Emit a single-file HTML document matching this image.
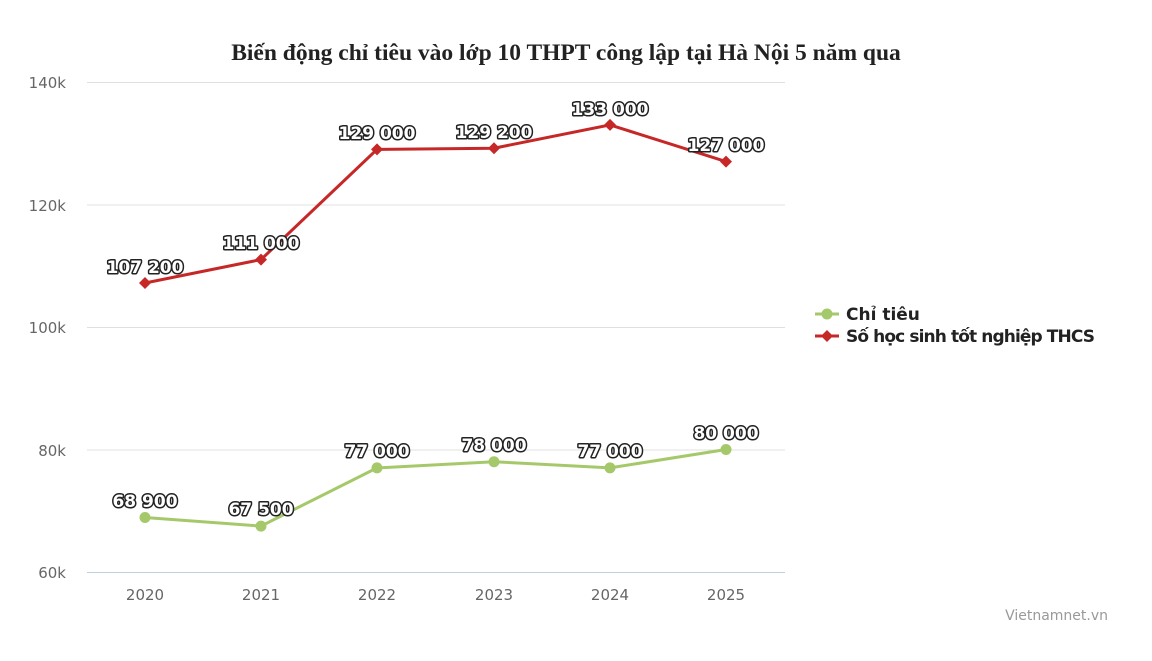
<!DOCTYPE html>
<html><head><meta charset="utf-8"><style>
body{margin:0;background:#fff;}
svg text{font-family:"DejaVu Sans","Liberation Sans",sans-serif;}
.lbl{font-family:"Liberation Sans",sans-serif !important;font-size:17px;font-weight:bold;fill:#fff;stroke:#222;stroke-width:3px;paint-order:stroke;stroke-linejoin:round;text-anchor:middle;}
.ax{font-size:15px;fill:#666;}
</style></head><body>
<svg width="1152" height="656" xmlns="http://www.w3.org/2000/svg">
<rect width="1152" height="656" fill="#fff"/>
<text x="566" y="60" text-anchor="middle" style="font-family:'Liberation Serif',serif;font-size:23.5px;font-weight:bold;fill:#222">Biến động chỉ tiêu vào lớp 10 THPT công lập tại Hà Nội 5 năm qua</text>
<g stroke="#e0e0e0" stroke-width="1">
<line x1="87" x2="785" y1="82.5" y2="82.5"/>
<line x1="87" x2="785" y1="205" y2="205"/>
<line x1="87" x2="785" y1="327.5" y2="327.5"/>
<line x1="87" x2="785" y1="450" y2="450"/>
</g>
<line x1="87" x2="785" y1="572.5" y2="572.5" stroke="#c0d0e0"/>
<g class="ax" text-anchor="end">
<text x="66" y="88">140k</text><text x="66" y="211">120k</text><text x="66" y="333">100k</text><text x="66" y="456">80k</text><text x="66" y="578">60k</text>
</g>
<g class="ax" text-anchor="middle">
<text x="145" y="600">2020</text><text x="261" y="600">2021</text><text x="377" y="600">2022</text><text x="494" y="600">2023</text><text x="610" y="600">2024</text><text x="726" y="600">2025</text>
</g>
<polyline fill="none" stroke="#c62828" stroke-width="3" points="145,283 261,259.6 377,149.4 494,148.2 610,124.9 726,161.6"/>
<g fill="#c62828">
<path d="M145,277 l6,6 l-6,6 l-6,-6z"/><path d="M261,253.6 l6,6 l-6,6 l-6,-6z"/><path d="M377,143.4 l6,6 l-6,6 l-6,-6z"/><path d="M494,142.2 l6,6 l-6,6 l-6,-6z"/><path d="M610,118.9 l6,6 l-6,6 l-6,-6z"/><path d="M726,155.6 l6,6 l-6,6 l-6,-6z"/>
</g>
<polyline fill="none" stroke="#a5c96a" stroke-width="3" points="145,517.5 261,526.1 377,467.9 494,461.75 610,467.9 726,449.5"/>
<g fill="#a5c96a">
<circle cx="145" cy="517.5" r="5.5"/><circle cx="261" cy="526.1" r="5.5"/><circle cx="377" cy="467.9" r="5.5"/><circle cx="494" cy="461.75" r="5.5"/><circle cx="610" cy="467.9" r="5.5"/><circle cx="726" cy="449.5" r="5.5"/>
</g>
<g class="lbl">
<text x="145" y="273">107 200</text><text x="261" y="249">111 000</text><text x="377" y="139">129 000</text><text x="494" y="138">129 200</text><text x="610" y="115">133 000</text><text x="726" y="151">127 000</text>
<text x="145" y="507">68 900</text><text x="261" y="515">67 500</text><text x="377" y="457">77 000</text><text x="494" y="451">78 000</text><text x="610" y="457">77 000</text><text x="726" y="439">80 000</text>
</g>
<line x1="815" x2="839" y1="314" y2="314" stroke="#a5c96a" stroke-width="3"/><circle cx="827" cy="314" r="5.5" fill="#a5c96a"/>
<text x="846" y="320" style="font-size:17px;font-weight:bold;fill:#222">Chỉ tiêu</text>
<line x1="815" x2="839" y1="336" y2="336" stroke="#c62828" stroke-width="3"/><path d="M827,330 l6,6 l-6,6 l-6,-6z" fill="#c62828"/>
<text x="846" y="342" style="font-size:17px;font-weight:bold;fill:#222" textLength="249">Số học sinh tốt nghiệp THCS</text>
<text x="1108" y="620" text-anchor="end" style="font-size:14px;fill:#999">Vietnamnet.vn</text>
</svg>
</body></html>
